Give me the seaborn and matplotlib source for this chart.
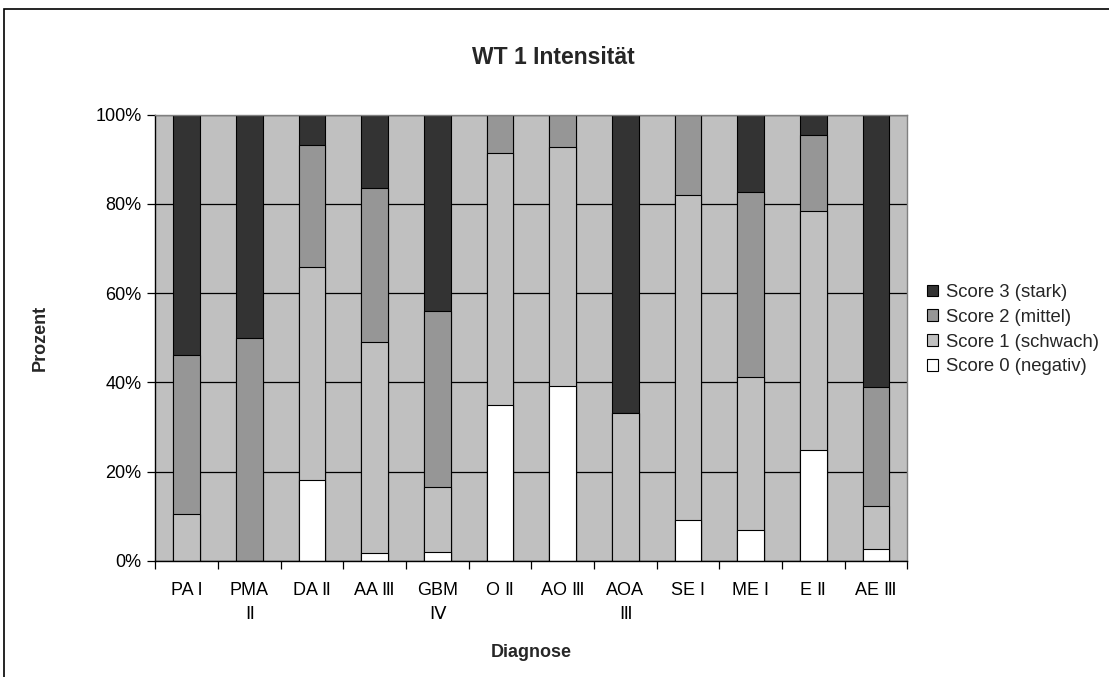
import numpy as np
import pandas as pd
import matplotlib
matplotlib.use("Agg")
import matplotlib.pyplot as plt
from matplotlib.patches import Rectangle
from matplotlib.ticker import PercentFormatter
import seaborn as sns

# ---- data (percent per diagnosis) ----
categories = ["PA I", "PMA\nⅡ", "DA Ⅱ", "AA Ⅲ", "GBM\nⅣ", "O Ⅱ",
              "AO Ⅲ", "AOA\nⅢ", "SE I", "ME I", "E Ⅱ", "AE Ⅲ"]
score0 = [0.0, 0.0, 18.1, 1.8, 2.0, 34.8, 39.2, 0.0, 9.1, 6.9, 24.9, 2.6]
score1 = [10.4, 0.0, 47.8, 47.2, 14.6, 56.6, 53.6, 33.2, 72.9, 34.4, 53.6, 9.7]
score2 = [35.7, 50.0, 27.2, 34.6, 39.3, 8.6, 7.2, 0.0, 18.0, 41.4, 16.9, 26.6]
score3 = [53.9, 50.0, 6.9, 16.4, 44.1, 0.0, 0.0, 66.8, 0.0, 17.3, 4.6, 61.1]
series_labels = ["Score 3 (stark)", "Score 2 (mittel)", "Score 1 (schwach)", "Score 0 (negativ)"]
series_colors = ["#333333", "#969696", "#C0C0C0", "#FFFFFF"]
yticks = [0, 20, 40, 60, 80, 100]

sns.set_theme(style="white")
plt.rcParams["font.family"] = ["Liberation Sans", "DejaVu Sans"]

W, H = 1109, 677
fig = plt.figure(figsize=(W / 100, H / 100), dpi=100)
ax = fig.add_axes([155.3 / W, 1 - 560.7 / H, 752 / W, 446 / H])
ax.set_facecolor("#C0C0C0")

df = pd.DataFrame({"Diagnose": categories, "s0": score0, "s1": score1,
                   "s2": score2, "s3": score3})
# cumulative tops, drawn from the tallest down so each layer overlaps the next
df["c3"] = df[["s0", "s1", "s2", "s3"]].sum(axis=1)
df["c2"] = df[["s0", "s1", "s2"]].sum(axis=1)
df["c1"] = df[["s0", "s1"]].sum(axis=1)
df["c0"] = df["s0"]

for col, lab, colr in zip(["c3", "c2", "c1", "c0"], series_labels, series_colors):
    sns.barplot(data=df, x="Diagnose", y=col, color=colr, saturation=1,
                width=0.425, edgecolor="black", linewidth=0.8, ax=ax,
                label=lab, order=categories)

ax.set_xlim(-0.5, len(categories) - 0.5)
ax.set_ylim(0, 100)
ax.set_yticks(yticks)
ax.yaxis.set_major_formatter(PercentFormatter(decimals=0))
ax.yaxis.grid(True, color="black", linewidth=0.9)
ax.xaxis.grid(False)
ax.set_axisbelow(True)

ax.set_xticks(np.arange(len(categories)))
ax.set_xticklabels(categories)
for t in ax.get_xticklabels():
    t.set_linespacing(1.55)
ax.set_xticks(np.arange(-0.5, len(categories), 1), minor=True)
ax.tick_params(axis="x", which="major", length=0, pad=15, labelsize=13, colors="black")
ax.tick_params(axis="x", which="minor", length=6, width=0.9, direction="out",
               color="black", bottom=True)
ax.tick_params(axis="y", which="major", length=6, width=0.9, direction="out",
               pad=4, labelsize=13, colors="black", left=True)

for side in ["left", "bottom"]:
    ax.spines[side].set_color("black")
    ax.spines[side].set_linewidth(1.0)
for side in ["top", "right"]:
    ax.spines[side].set_color("#808080")
    ax.spines[side].set_linewidth(1.0)

ax.set_xlabel("Diagnose", fontsize=13, fontweight="bold")
ax.set_ylabel("Prozent", fontsize=13, fontweight="bold")
ax.xaxis.set_label_coords(0.5, (560.7 - 644) / 446)
ax.yaxis.set_label_coords((49 - 155.3) / 752, 0.5)

fig.text(553 / W, 1 - 57 / H, "WT 1 Intensität", ha="center", va="center",
         fontsize=16.5, fontweight="bold")

leg = ax.legend(loc="upper left", bbox_to_anchor=(927 / W, 1 - 284 / H),
                bbox_transform=fig.transFigure, frameon=False, fontsize=13.3,
                handlelength=0.6, handleheight=0.6, handletextpad=0.45,
                labelspacing=0.42, borderpad=0, borderaxespad=0)
for h in leg.legend_handles:
    h.set_edgecolor("black")
    h.set_linewidth(0.8)

fig.patches.append(Rectangle((4 / W, -0.1), 1.2, (1 - 9 / H) + 0.1, fill=False,
                             edgecolor="black", linewidth=1.2,
                             transform=fig.transFigure, figure=fig, clip_on=False))

fig.savefig("out.png", dpi=100)
